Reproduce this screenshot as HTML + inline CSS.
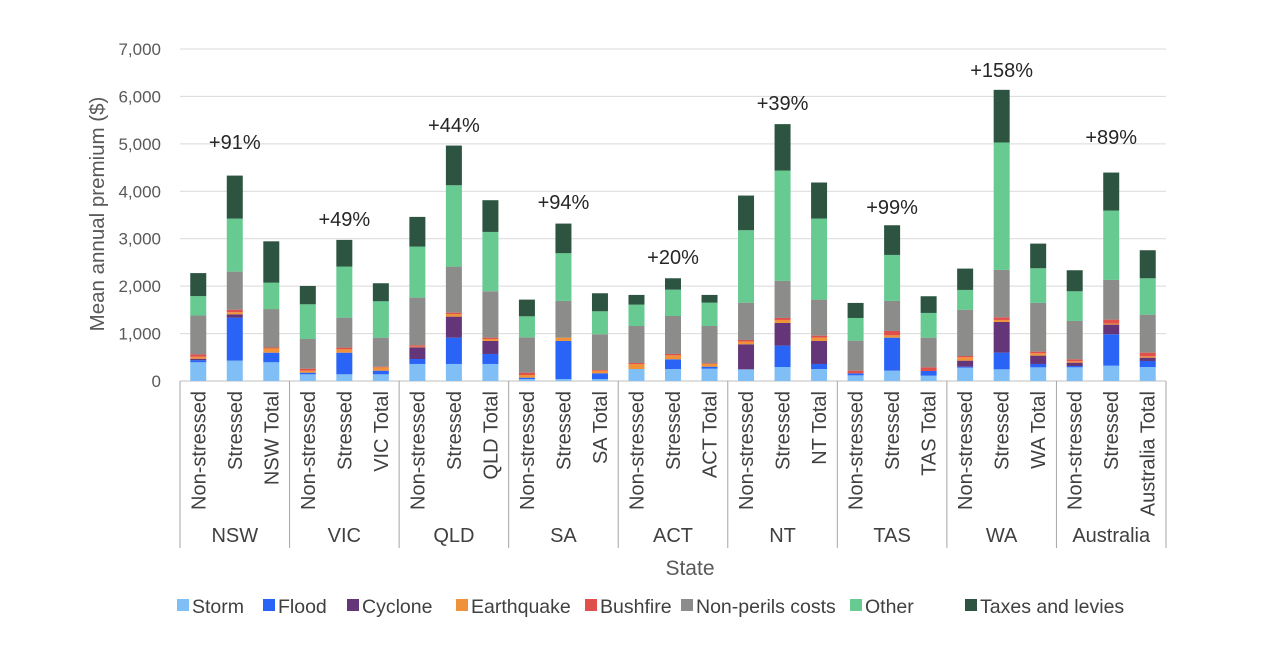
<!DOCTYPE html>
<html><head><meta charset="utf-8"><style>
body{margin:0;background:#fff;}
svg{display:block;font-family:"Liberation Sans",Arial,sans-serif;}
</style></head><body>
<svg id="chart" width="1277" height="654"></svg>
<script>
const groups=["NSW","VIC","QLD","SA","ACT","NT","TAS","WA","Australia"];
const seriesNames=["Storm","Flood","Cyclone","Earthquake","Bushfire","Non-perils costs","Other","Taxes and levies"];
const seriesColors=["#7fbff5","#2a64f6","#643578","#f0923a","#e0504a","#8c8c8a","#66ca91","#2c5441"];
const yTicks=[0,1000,2000,3000,4000,5000,6000,7000];
const yTickLabels=["0","1,000","2,000","3,000","4,000","5,000","6,000","7,000"];
// each bar: [storm, flood, cyclone, earthquake, bushfire, nonperil, other, taxes]
const nonStressed=[
[395,45,30,40,50,820,410,485],
[141,35,0,42,42,626,731,387],
[359,105,247,14,28,1005,1076,626],
[42,28,0,57,49,745,443,352],
[253,0,0,106,21,780,450,205],
[246,0,528,56,35,787,1527,731],
[119,43,0,0,56,633,478,317],
[281,21,127,71,27,977,416,450],
[288,28,71,28,42,809,626,443]];
const stressed=[
[430,906,70,44,54,802,1119,906],
[141,456,0,70,37,632,1076,563],
[359,555,443,56,28,971,1715,837],
[42,802,0,70,0,774,1006,625],
[253,204,0,84,29,801,556,239],
[295,451,478,63,42,781,2327,979],
[218,696,0,49,92,633,970,626],
[246,352,647,42,56,999,2687,1110],
[323,662,204,21,84,837,1463,801]];
const totals=[
[395,202,0,90,20,810,556,872],
[141,77,0,70,14,612,767,380],
[359,211,274,42,28,978,1251,669],
[42,120,0,56,14,753,485,380],
[260,42,0,57,14,787,492,163],
[253,106,485,70,42,760,1709,760],
[112,99,0,0,77,626,521,352],
[288,71,176,49,35,1027,731,520],
[295,127,70,28,78,801,767,591]];
const pctLabels=["+91%","+49%","+44%","+94%","+20%","+39%","+99%","+158%","+89%"];
const pctLabelY=[5040,3415,5397,3774,2614,5861,3668,6557,5144];

const NS="http://www.w3.org/2000/svg";
const svg=document.getElementById('chart');
const X0=180,X1=1166,Y0=381,Y1=49,YMAX=7000;
const gw=(X1-X0)/groups.length, sw=gw/3, bw=16;
const y=v=>Y0-(v/YMAX)*(Y0-Y1);
function mk(tag,attrs,txt){const e=document.createElementNS(NS,tag);for(const k in attrs)e.setAttribute(k,attrs[k]);if(txt!==undefined)e.textContent=txt;svg.appendChild(e);return e;}

yTicks.forEach((t,i)=>{
  const g=mk('line',{x1:X0,x2:X1,y1:y(t),y2:y(t),stroke:i===0?'#bfbfbf':'#d9d9d9','stroke-width':1});
  
  
  const l=mk('text',{x:161,y:y(t)+6,'text-anchor':'end','font-size':17,fill:'#595959'},yTickLabels[i]);
  
  
});
const yt=mk('text',{x:0,y:0,transform:'translate(104,214) rotate(-90)','text-anchor':'middle','font-size':20.5,fill:'#595959'},'Mean annual premium ($)');



const cats=["Non-stressed","Stressed"];
groups.forEach((gname,gi)=>{
  const bars=[nonStressed[gi],stressed[gi],totals[gi]];
  bars.forEach((vals,bi)=>{
    const cx=X0+gi*gw+sw*(bi+0.5);
    let acc=0;
    vals.forEach((v,si)=>{
      if(v<=0)return;
      const r=mk('rect',{x:cx-bw/2,y:y(acc+v),width:bw,height:y(acc)-y(acc+v),fill:seriesColors[si]});
      
      
      acc+=v;
    });
    const lab=bi<2?cats[bi]:gname+' Total';
    const t=mk('text',{x:0,y:0,transform:'translate('+(cx+7)+',391) rotate(-90)','text-anchor':'end','font-size':20,fill:'#404040'},lab);
    
    
  });
  const gx=X0+gi*gw;
  const d=mk('line',{x1:gx,x2:gx,y1:Y0,y2:548,stroke:'#a6a6a6','stroke-width':1});
  
  
  const gl=mk('text',{x:gx+gw/2,y:542,'text-anchor':'middle','font-size':20,fill:'#404040'},gname);
  
  
  const p=mk('text',{x:gx+sw*1.5,y:y(pctLabelY[gi])+7,'text-anchor':'middle','font-size':20,fill:'#262626'},pctLabels[gi]);
  
  
});
const dl=mk('line',{x1:X1,x2:X1,y1:Y0,y2:548,stroke:'#a6a6a6','stroke-width':1});


const xt=mk('text',{x:690,y:575,'text-anchor':'middle','font-size':21,fill:'#595959'},'State');



const legX=[177,263,347,456,585,681,850,965];
seriesNames.forEach((n,i)=>{
  const r=mk('rect',{x:legX[i],y:599,width:12,height:12,fill:seriesColors[i]});
  
  
  const t=mk('text',{x:legX[i]+15,y:613,'font-size':19.5,fill:'#404040'},n);
  
  
});
</script>
</body></html>
